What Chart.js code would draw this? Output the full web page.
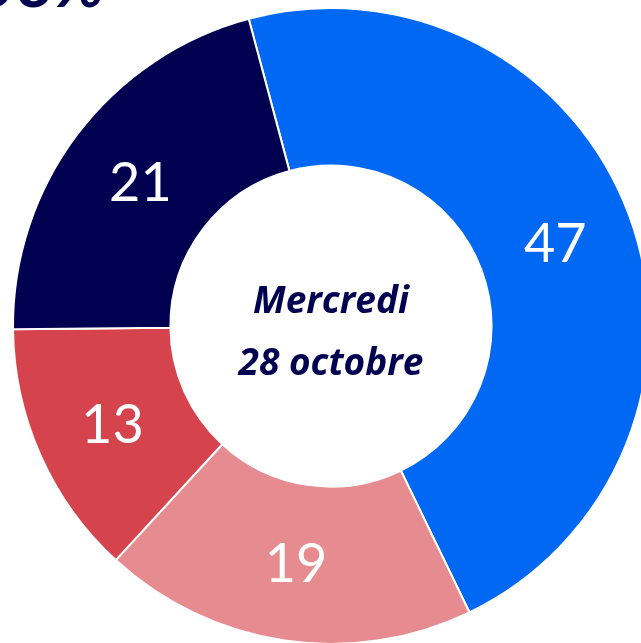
<!DOCTYPE html>
<html>
<head>
<meta charset="utf-8">
<script src="https://cdn.jsdelivr.net/npm/chart.js@4"></script>
<style>
  html, body { margin: 0; padding: 0; width: 641px; height: 643px; overflow: hidden; background: #fff; }
  #wrap { position: absolute; left: -9px; top: -14px; width: 680px; height: 680px; }
  #topText { position: absolute; left: -22px; top: -58px; font: italic bold 66px Lato, "Open Sans", sans-serif; color: #000050; white-space: nowrap; }
</style>
</head>
<body>
<div id="topText">58%</div>
<div id="wrap"><canvas id="chart"></canvas></div>
<script>
// segments clockwise from just left of the top
var categories = ['A', 'B', 'C', 'D'];
var values = [47, 19, 13, 21];
var colors = ['#0068F2', '#E68C91', '#D5444C', '#000050'];
var centerLines = ['Mercredi', '28 octobre'];

var labelPlugin = {
    id: 'labels',
    afterDatasetsDraw: function (chart) {
        var ctx = chart.ctx;
        var meta = chart.getDatasetMeta(0);
        ctx.save();
        ctx.fillStyle = '#ffffff';
        ctx.font = '54px Lato, "Open Sans", sans-serif';
        ctx.textAlign = 'center';
        ctx.textBaseline = 'middle';
        meta.data.forEach(function (arc, i) {
            var p = arc.tooltipPosition();
            ctx.fillText(String(values[i]), p.x, p.y + 2);
        });
        // centre text
        var c = meta.data[0];
        ctx.fillStyle = '#000050';
        ctx.font = 'italic bold 37px "Open Sans", Lato, sans-serif';
        ctx.fillText(centerLines[0], c.x, c.y - 24);
        ctx.fillText(centerLines[1], c.x, c.y + 38);
        ctx.restore();
    }
};

new Chart(document.getElementById('chart'), {
    type: 'doughnut',
    data: {
        labels: categories,
        datasets: [{
            data: values,
            backgroundColor: colors,
            borderColor: '#ffffff',
            borderWidth: 2
        }]
    },
    options: {
        responsive: true,
        maintainAspectRatio: false,
        animation: false,
        rotation: -15,
        cutout: '50.5%',
        layout: { padding: 21 },
        plugins: {
            legend: { display: false },
            tooltip: { enabled: false }
        }
    },
    plugins: [labelPlugin]
});
</script>
</body>
</html>
